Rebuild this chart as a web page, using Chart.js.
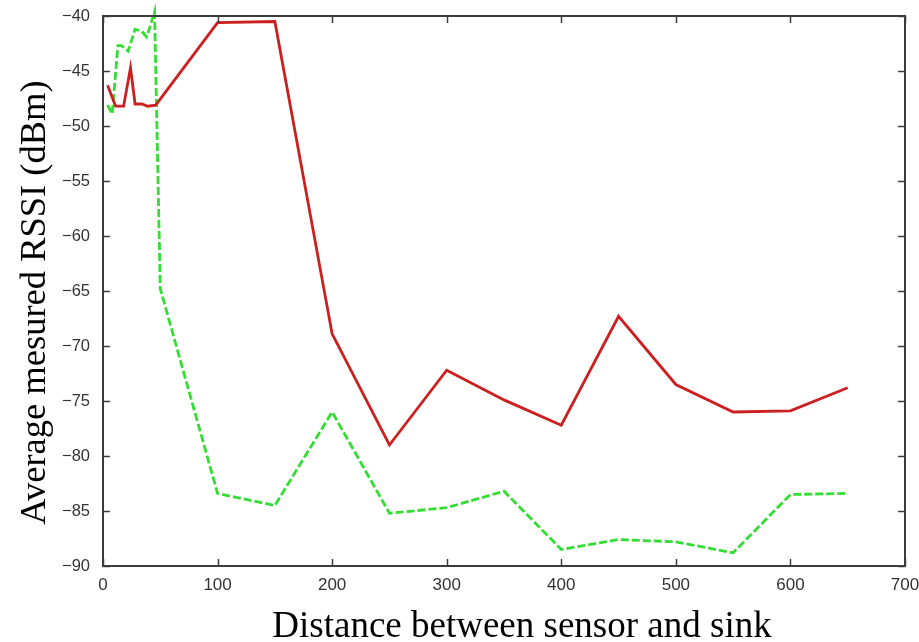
<!DOCTYPE html>
<html>
<head>
<meta charset="utf-8">
<script src="https://cdn.jsdelivr.net/npm/chart.js@4/dist/chart.umd.min.js"></script>
<style>
  html, body { margin: 0; padding: 0; background: #ffffff; }
  #wrap { width: 919px; height: 642px; position: relative; }
</style>
</head>
<body>
<div id="wrap"><canvas id="c" width="919" height="642"></canvas></div>
<script>
// ---- Data ----
const redX = [4, 11, 18, 24, 28, 34, 39, 46, 100, 150, 200, 250, 300, 350, 400, 450, 500, 550, 600, 650];
const redY = [-46.3, -48.2, -48.2, -44.7, -48.0, -48.0, -48.2, -48.1, -40.6, -40.5, -68.9, -79.0, -72.2, -74.9, -77.2, -67.3, -73.5, -76.0, -75.9, -73.8];

const greenX = [4, 8, 13, 16, 22, 28, 34, 38, 41, 45, 50, 100, 150, 200, 250, 300, 350, 400, 450, 500, 550, 600, 650];
const greenY = [-48.1, -48.9, -42.7, -42.7, -43.2, -41.2, -41.4, -41.9, -41.0, -39.6, -64.8, -83.4, -84.5, -76.0, -85.2, -84.7, -83.2, -88.5, -87.6, -87.8, -88.8, -83.5, -83.4];

const xTicks = [0, 100, 200, 300, 400, 500, 600, 700];
const yTicks = [-90, -85, -80, -75, -70, -65, -60, -55, -50, -45, -40];

const xTitle = 'Distance between sensor and sink';
const yTitle = 'Average mesured RSSI (dBm)';

const toPoints = (xs, ys) => xs.map((x, i) => ({ x: x, y: ys[i] }));

// Frame with inward (mirrored) ticks, drawn from the library's scales
const frameTicks = {
  id: 'frameTicks',
  afterDatasetsDraw(chart) {
    const { ctx, chartArea: a, scales } = chart;
    const len = 7;
    ctx.save();
    ctx.strokeStyle = '#3c3c3c';
    ctx.lineWidth = 1.5;
    ctx.beginPath();
    scales.x.ticks.forEach(t => {
      const px = Math.round(scales.x.getPixelForValue(t.value)) + 0.5;
      ctx.moveTo(px, a.bottom); ctx.lineTo(px, a.bottom - len);
      ctx.moveTo(px, a.top); ctx.lineTo(px, a.top + len);
    });
    scales.y.ticks.forEach(t => {
      const py = Math.round(scales.y.getPixelForValue(t.value)) + 0.5;
      ctx.moveTo(a.left, py); ctx.lineTo(a.left + len, py);
      ctx.moveTo(a.right, py); ctx.lineTo(a.right - len, py);
    });
    ctx.stroke();
    ctx.lineWidth = 2;
    ctx.strokeRect(a.left, a.top, a.right - a.left, a.bottom - a.top);
    ctx.restore();
  }
};

// Axis titles (serif), placed relative to the chart area
const axisTitles = {
  id: 'axisTitles',
  afterDraw(chart) {
    const { ctx, chartArea: a } = chart;
    ctx.save();
    ctx.fillStyle = '#000000';
    ctx.textAlign = 'center';
    ctx.textBaseline = 'alphabetic';
    ctx.font = '37px "Liberation Serif"';
    ctx.fillText(xTitle, (a.left + a.right) / 2 + 18, a.bottom + 70.5);
    ctx.translate(a.left - 58, (a.top + a.bottom) / 2 + 11.5);
    ctx.rotate(-Math.PI / 2);
    ctx.font = '36.5px "Liberation Serif"';
    ctx.fillText(yTitle, 0, 0);
    ctx.restore();
  }
};

new Chart(document.getElementById('c'), {
  type: 'line',
  data: {
    datasets: [
      { label: 'red', data: toPoints(redX, redY), borderColor: '#cc1f1f', borderWidth: 2.8,
        pointRadius: 0, tension: 0, fill: false, clip: false },
      { label: 'green', data: toPoints(greenX, greenY), borderColor: '#33dd33', borderWidth: 2.8,
        borderDash: [8, 3], pointRadius: 0, tension: 0, fill: false, clip: false }
    ]
  },
  options: {
    responsive: false,
    animation: false,
    layout: { padding: { top: 16, right: 14, left: 0, bottom: 0 } },
    plugins: { legend: { display: false }, tooltip: { enabled: false } },
    scales: {
      x: {
        type: 'linear', min: 0, max: 700,
        afterBuildTicks: s => { s.ticks = xTicks.map(v => ({ value: v })); },
        afterFit: s => { s.height = 76; s.paddingLeft = 0; s.paddingRight = 0; },
        grid: { display: false, drawTicks: false },
        border: { display: false },
        ticks: { padding: 9, color: '#333333', font: { family: 'Liberation Sans', size: 17 },
          maxRotation: 0, callback: v => String(v) },
        title: { display: false, text: xTitle }
      },
      y: {
        type: 'linear', min: -90, max: -40,
        afterBuildTicks: s => { s.ticks = yTicks.map(v => ({ value: v })); },
        afterFit: s => { s.width = 103; s.paddingTop = 0; s.paddingBottom = 0; },
        grid: { display: false, drawTicks: false },
        border: { display: false },
        ticks: { padding: 13, color: '#333333', font: { family: 'Liberation Sans', size: 16.5 },
          callback: v => String(v).replace('-', '\u2212') },
        title: { display: false, text: yTitle }
      }
    }
  },
  plugins: [frameTicks, axisTitles]
});
</script>
</body>
</html>
